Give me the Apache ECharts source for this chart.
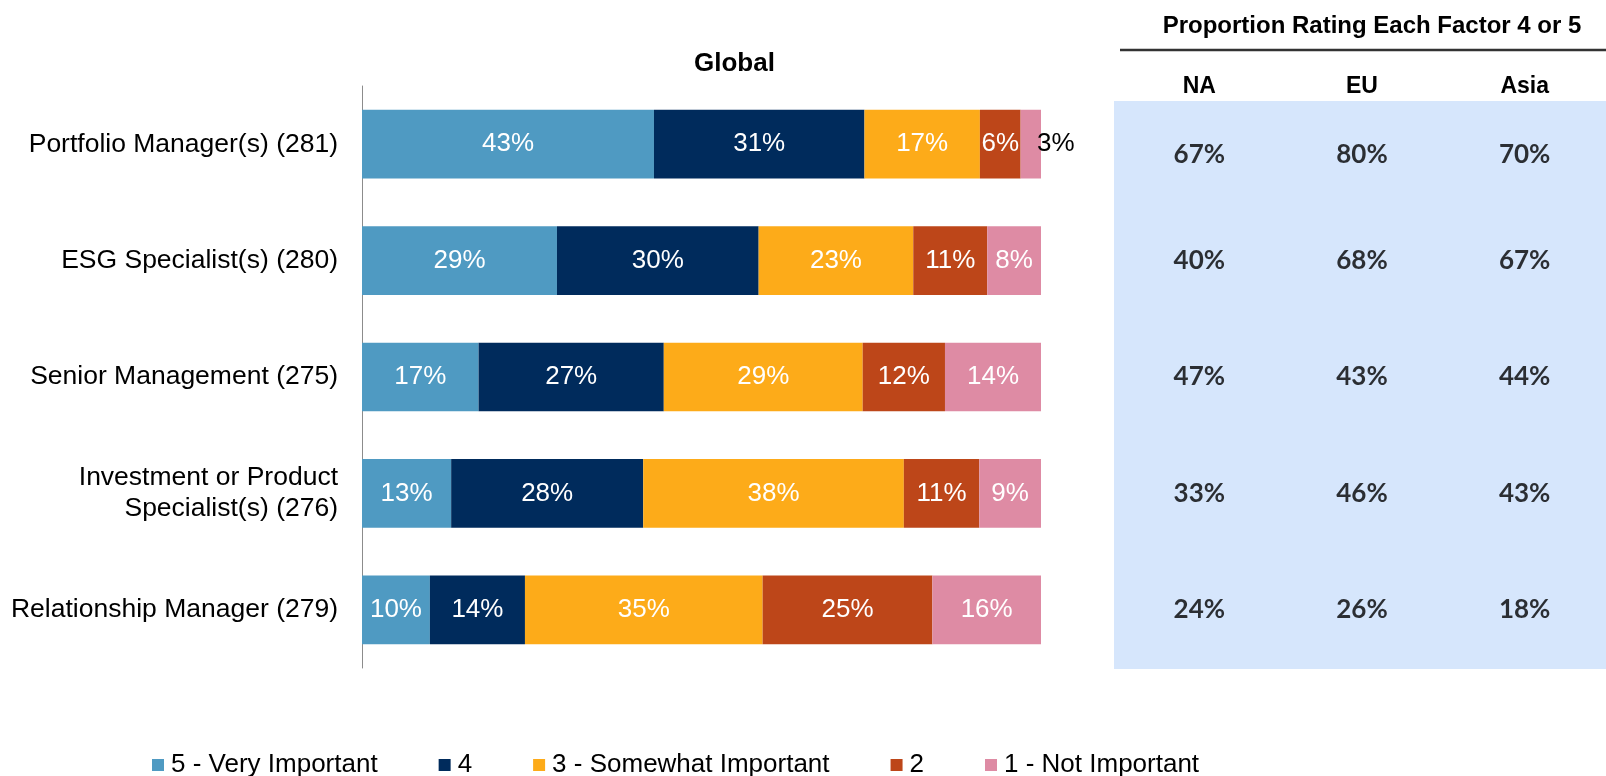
<!DOCTYPE html>
<html>
<head>
<meta charset="utf-8">
<script src="https://cdn.jsdelivr.net/npm/echarts@6/dist/echarts.min.js"></script>
<style>html,body{margin:0;padding:0;background:#fff}#c{width:1606px;height:776px}</style>
</head>
<body>
<div id="c"></div>
<script>
const categories = [
  'Portfolio Manager(s) (281)',
  'ESG Specialist(s) (280)',
  'Senior Management (275)',
  'Investment or Product\nSpecialist(s) (276)',
  'Relationship Manager (279)'
];
const seriesNames = ['5 - Very Important', '4', '3 - Somewhat Important', '2', '1 - Not Important'];
const v5 = [43, 29, 17, 13, 10];
const v4 = [31, 30, 27, 28, 14];
const v3 = [17, 23, 29, 38, 35];
const v2 = [6, 11, 12, 11, 25];
const v1 = [3, 8, 14, 9, 16];
const regions = ['NA', 'EU', 'Asia'];
const naVals = [67, 40, 47, 33, 24];
const euVals = [80, 68, 43, 46, 26];
const asiaVals = [70, 67, 44, 43, 18];

const colors = ['#4F9AC2', '#002B5C', '#FDAB19', '#BD4619', '#DE8BA4'];
const FONT = "'Liberation Sans', Arial, sans-serif";
const levels = [v5, v4, v3, v2, v1];
const rowSums = categories.map((_, i) => levels.reduce((s, arr) => s + arr[i], 0));

const barSeries = levels.map((arr, si) => ({
  name: seriesNames[si],
  type: 'bar',
  stack: 'total',
  xAxisIndex: 0,
  yAxisIndex: 0,
  barCategoryGap: '41%',
  itemStyle: { color: colors[si] },
  label: {
    show: true,
    position: 'inside',
    color: '#fff',
    fontSize: 26,
    fontFamily: FONT,
    formatter: p => p.data.raw + '%'
  },
  data: arr.map((v, i) => {
    const item = { value: v / rowSums[i] * 100, raw: v };
    if (si === 4 && v < 5) {
      item.label = { position: 'right', distance: -4, color: '#000' };
    }
    return item;
  })
}));

const tableData = [];
[naVals, euVals, asiaVals].forEach((arr, ci) => {
  arr.forEach((v, ri) => {
    const item = { value: [regions[ci], categories[ri], v] };
    if (ri === 0) item.label = { offset: [0, 10] };
    tableData.push(item);
  });
});

const option = {
  backgroundColor: '#fff',
  animation: false,
  title: [
    { text: 'Global', left: 689, top: 46, textStyle: { fontSize: 26, fontWeight: 'bold', fontFamily: FONT, color: '#000' } },
    { text: 'Proportion Rating Each Factor 4 or 5', left: 1367, top: 9, textAlign: 'center',
      textStyle: { fontSize: 24, fontWeight: 'bold', fontFamily: FONT, color: '#000' } }
  ],
  legend: {
    data: seriesNames,
    left: 147,
    top: 747,
    itemWidth: 12,
    itemHeight: 12,
    itemGap: 61,
    icon: 'rect',
    textStyle: { fontSize: 26, fontFamily: FONT, color: '#000', padding: [0, 0, 0, 2] }
  },
  graphic: [
    { type: 'line', shape: { x1: 1120, y1: 50, x2: 1606, y2: 50 }, style: { stroke: '#333', lineWidth: 2.5 } }
  ],
  grid: [
    { left: 362, right: 565, top: 86, bottom: 108, containLabel: false },
    { left: 1118, width: 503, top: 86, bottom: 108, containLabel: false },
    { left: 1114, right: 0, top: 101, bottom: 107, show: true, backgroundColor: '#D6E6FC', borderWidth: 0, containLabel: false }
  ],
  xAxis: [
    { type: 'value', gridIndex: 0, min: 0, max: 100, show: false },
    { type: 'category', gridIndex: 1, data: regions, show: false },
    { type: 'category', gridIndex: 1, data: regions, position: 'top', offset: -15,
      axisLine: { show: false }, axisTick: { show: false },
      axisLabel: { margin: 3, fontSize: 23, fontWeight: 'bold', fontFamily: FONT, color: '#000' } }
  ],
  yAxis: [
    { type: 'category', gridIndex: 0, data: categories, inverse: true,
      axisLine: { show: true, lineStyle: { color: '#8C8C8C', width: 1 } },
      axisTick: { show: false },
      axisLabel: { margin: 24, fontSize: 26.5, fontFamily: FONT, color: '#000', lineHeight: 31, align: 'right' } },
    { type: 'category', gridIndex: 1, data: categories, inverse: true, show: false },
    { type: 'category', gridIndex: 2, data: categories, inverse: true, show: false }
  ],
  series: barSeries.concat([
    {
      type: 'scatter',
      xAxisIndex: 1,
      yAxisIndex: 1,
      symbolSize: 0,
      silent: true,
      label: {
        show: true,
        position: 'inside',
        fontSize: 26,
        fontWeight: 'bold',
        fontFamily: "Lato, 'Open Sans', sans-serif",
        color: '#000',
        formatter: p => p.data.value[2] + '%'
      },
      data: tableData
    }
  ])
};

const chart = echarts.init(document.getElementById('c'), null, { renderer: 'canvas' });
chart.setOption(option);
</script>
</body>
</html>
